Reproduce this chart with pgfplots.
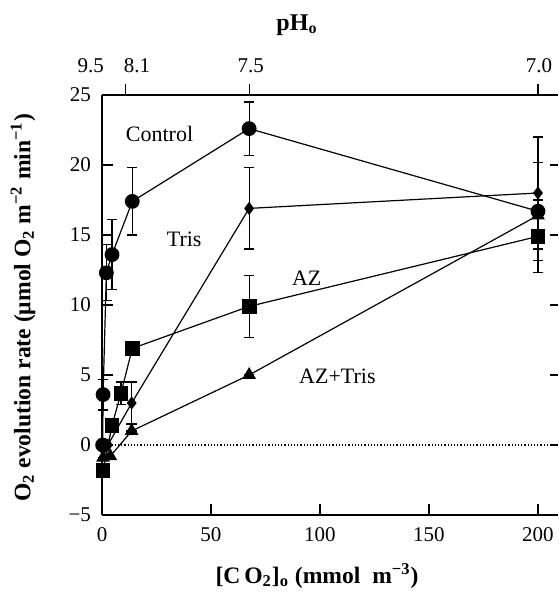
\documentclass[border=0pt]{standalone}
\usepackage{fontspec}
\setmainfont{Liberation Serif}
\usepackage{pgfplots}
\pgfplotsset{compat=1.18}
\begin{document}
\begin{tikzpicture}
\pgfplotsset{
  base/.style={scale only axis, width=228pt, height=210pt,
    xmin=0, xmax=209.2, ymin=-5, ymax=25,
    axis line style={line width=0.6pt,-},
    tick style={line width=0.6pt, black},
    ticklabel style={font=\fontsize{10.5}{12}\selectfont},
    /pgf/number format/assume math mode=true},
  ln/.style={
    error bars/.cd, y dir=both, y explicit,
    error bar style={line width=0.6pt, black},
    error mark options={rotate=90, mark size=2.6pt, line width=0.6pt, black},
    /pgfplots/.cd, black, line width=0.6pt},
}
% main axis
\begin{axis}[base, axis x line*=bottom, axis y line*=left, tick align=inside,
  major tick length=5.5pt,
  xtick={0,50,100,150,200}, ytick={-5,0,5,10,15,20,25},
  yticklabels={−5,0,5,10,15,20,25},
  xticklabel style={yshift=-2.5pt}, yticklabel style={xshift=-2pt},
  clip=false]
\addplot[black, densely dotted, line width=0.6pt] coordinates {(0,0) (209.2,0)};
% AZ (squares)
\addplot[ln, mark=square*, mark size=3.4pt] coordinates {
 (0.5,-1.85) +- (0,0)
 (4.6,1.4) +- (0,0)
 (8.7,3.7) +- (0,0.8)
 (13.9,6.9) +- (0,0)
 (67.5,9.9) +- (0,2.2)
 (200,14.9) +- (0,2.6)};
% AZ+Tris (triangles)
\addplot[ln, mark=triangle*, mark size=3.4pt] coordinates {
 (0.5,-0.9) +- (0,0)
 (3.8,-0.8) +- (0,0)
 (13.6,1.0) +- (0,0)
 (67.5,5.0) +- (0,0)
 (200,16.4) +- (0,0)};
% Tris (diamonds)
\addplot[ln, mark=diamond*, mark size=2.8pt] coordinates {
 (0.5,-0.3) +- (0,0)
 (2.7,0.0) +- (0,0)
 (13.6,3.0) +- (0,1.5)
 (67.5,16.9) +- (0,2.9)
 (200,18.0) +- (0,4.0)};
% Control (circles)
\addplot[ln, mark=*, mark size=3.4pt] coordinates {
 (0.3,0) +- (0,0)
 (0.5,3.6) +- (0,1.1)
 (2.0,12.3) +- (0,2.0)
 (4.6,13.6) +- (0,2.5)
 (13.9,17.4) +- (0,2.4)
 (67.5,22.6) +- (0,1.9)
 (200,16.7) +- (0,3.5)};
\node[font=\fontsize{11}{13}\selectfont] at (axis cs:26.4,22.2) {Control};
\node[font=\fontsize{11}{13}\selectfont] at (axis cs:37.7,14.7) {Tris};
\node[font=\fontsize{11}{13}\selectfont] at (axis cs:93.9,11.9) {AZ};
\node[font=\fontsize{11}{13}\selectfont] at (axis cs:108,4.9) {AZ+Tris};
\end{axis}
% top pH axis
\begin{axis}[base, axis x line*=top, axis y line=none, tick align=outside,
  major tick length=5.5pt,
  xtick={10.6,67.5,200}, xticklabels={}, clip=false]
\node[font=\fontsize{10.5}{12}\selectfont] at (axis cs:-5.2,25) [yshift=14.5pt] {9.5};
\node[font=\fontsize{10.5}{12}\selectfont] at (axis cs:16,25) [yshift=14.5pt] {8.1};
\node[font=\fontsize{10.5}{12}\selectfont] at (axis cs:68.2,25) [yshift=14.5pt] {7.5};
\node[font=\fontsize{10.5}{12}\selectfont] at (axis cs:200.5,25) [yshift=14.5pt] {7.0};
\end{axis}
% right ticks
\begin{axis}[base, axis y line*=right, axis x line=none, tick align=inside,
  y axis line style={draw=none}, major tick length=4pt,
  ytick={-5,0,5,10,15,20,25}, yticklabels={}]
\end{axis}
\node[rotate=90, font=\bfseries\fontsize{11.8}{14}\selectfont] at (-39.5pt,103.5pt)
  {O\textsubscript{2} evolution rate (μmol O\textsubscript{2} m\textsuperscript{−2} min\textsuperscript{−1})};
\node[font=\bfseries\fontsize{11.8}{14}\selectfont] at (107.5pt,-30.5pt)
  {[C\,O\textsubscript{2}]\textsubscript{o} (mmol\ \ m\textsuperscript{−3})};
\node[font=\bfseries\fontsize{12}{14}\selectfont] at (97.5pt,245pt) {pH\textsubscript{o}};
\pgfresetboundingbox
\path[use as bounding box] (-51pt,-39pt) rectangle (228pt,257.5pt);
\end{tikzpicture}
\end{document}
